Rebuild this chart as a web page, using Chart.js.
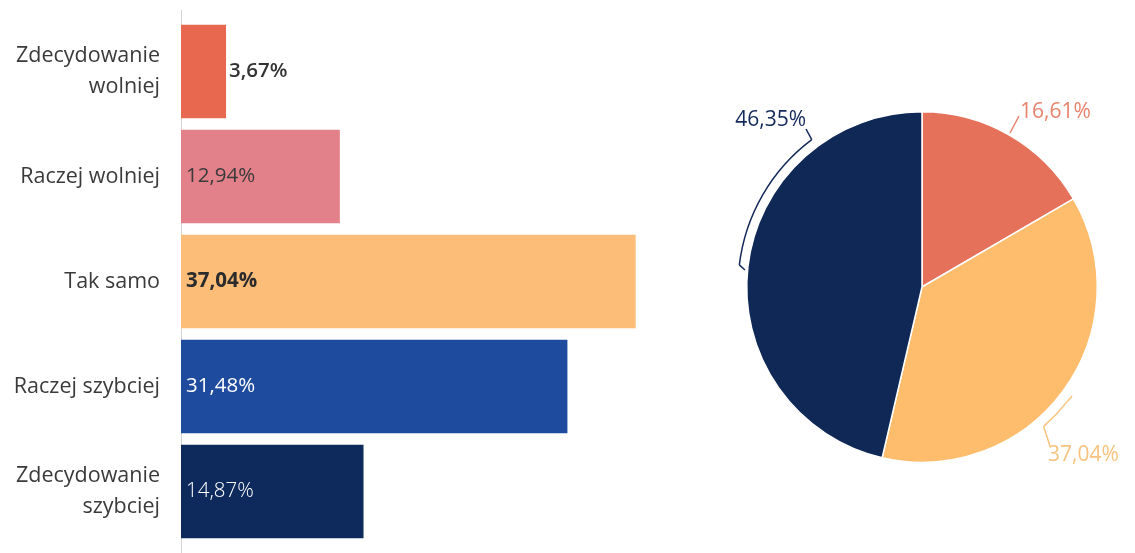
<!DOCTYPE html>
<html>
<head>
<meta charset="utf-8">
<script src="https://cdn.jsdelivr.net/npm/chart.js@4.4.1/dist/chart.umd.min.js"></script>
<style>
  html, body { margin: 0; padding: 0; background: #fff; }
  body { width: 1135px; height: 553px; position: relative; overflow: hidden; }
  #wrapBarras { position: absolute; left: 0; top: 0; width: 672px; height: 553px; }
  #wrapKolo { position: absolute; left: 700px; top: 80px; width: 435px; height: 420px; }
</style>
</head>
<body>
<div id="wrapBarras"><canvas id="graficoBarras"></canvas></div>
<div id="wrapKolo"><canvas id="graficoKolo"></canvas></div>
<script>
// dane
var kategorie = [['Zdecydowanie', 'wolniej'], 'Raczej wolniej', 'Tak samo', 'Raczej szybciej', ['Zdecydowanie', 'szybciej']];
var wartosci = [3.67, 12.94, 37.04, 31.48, 14.87];
var etykietyKolo = ['Wolniej', 'Tak samo', 'Szybciej'];
var wartosciKolo = [16.61, 37.04, 46.35];

var kolorySlupkow = ['#e8684f', '#e2818a', '#fcbd79', '#1f4b9f', '#0e2a5d'];
var koloryTekstu = ['#333333', '#3a3a3a', '#2b2b2b', '#ffffff', '#ffffff'];
var wagiTekstu = ['600', '400', '700', '400', '300'];
var koloryKolo = ['#e5715b', '#fdbd6d', '#0f2856'];

function formatuj(v) {
   return v.toFixed(2).replace('.', ',') + '%';
}

// linia osi Y (trochę dłuższa niż obszar wykresu)
var liniaOsi = {
   id: 'liniaOsi',
   beforeDatasetsDraw: function (chart) {
      var ctx = chart.ctx;
      var x = chart.chartArea.left + 0.5;
      ctx.save();
      ctx.strokeStyle = '#d4d4d4';
      ctx.lineWidth = 1;
      ctx.beginPath();
      ctx.moveTo(x, chart.chartArea.top - 9);
      ctx.lineTo(x, chart.height);
      ctx.stroke();
      ctx.restore();
   }
};

// etykiety wartości na słupkach
var etykietySlupkow = {
   id: 'etykietySlupkow',
   afterDatasetsDraw: function (chart) {
      var ctx = chart.ctx;
      var meta = chart.getDatasetMeta(0);
      ctx.save();
      ctx.textBaseline = 'middle';
      ctx.textAlign = 'left';
      meta.data.forEach(function (bar, i) {
         var txt = formatuj(wartosci[i]);
         ctx.font = wagiTekstu[i] + ' 20.5px "Open Sans"';
         var w = ctx.measureText(txt).width;
         var x = bar.base + 5;
         if (bar.x - bar.base < w + 10) x = bar.x + 3;
         ctx.fillStyle = koloryTekstu[i];
         ctx.fillText(txt, x, bar.y);
      });
      ctx.restore();
   }
};

new Chart(document.getElementById('graficoBarras').getContext('2d'), {
   type: 'bar',
   data: {
      labels: kategorie,
      datasets: [{
         data: wartosci,
         backgroundColor: kolorySlupkow,
         borderWidth: 0,
         categoryPercentage: 1,
         barPercentage: 0.89
      }]
   },
   options: {
      indexAxis: 'y',
      responsive: true,
      maintainAspectRatio: false,
      animation: false,
      layout: { padding: { top: 19, bottom: 9, right: 0 } },
      scales: {
         x: { display: false, min: 0, max: 40 },
         y: {
            grid: { display: false, drawTicks: false },
            border: { display: false },
            ticks: {
               color: '#3a3a3a',
               padding: 21,
               font: { family: '"Open Sans"', size: 21.5, lineHeight: 1.45 }
            },
            afterFit: function (scale) {
               scale.width = 181;
               scale.paddingTop = 0;
               scale.paddingBottom = 0;
            }
         }
      },
      plugins: {
         legend: { display: false },
         tooltip: { enabled: false }
      }
   },
   plugins: [liniaOsi, etykietySlupkow]
});

// opisy wycinków koła (nawiasy i linie)
var opisyKolo = [
   { kolor: '#e8836e', linie: [[[88, -154], [97, -171]]], tekst: [98, -175], align: 'left' },
   { kolor: '#f6c37e', luk: [37.9, 48.9, 185], linie: [[[150, 109], 'a0'], [[128, 159], 'a1']], tekst: [126, 168], align: 'left' },
   { kolor: '#14295a', luk: [186.9, 233.2, 184], linie: [[[-177, -17], 'a0'], [[-116, -158], 'a1']], tekst: [-116, -167], align: 'right' }
];

var opisyWycinkow = {
   id: 'opisyWycinkow',
   afterDatasetsDraw: function (chart) {
      var ctx = chart.ctx;
      var arc = chart.getDatasetMeta(0).data[0];
      var cx = arc.x, cy = arc.y;
      ctx.save();
      ctx.lineWidth = 1.5;
      opisyKolo.forEach(function (o, i) {
         ctx.strokeStyle = o.kolor;
         var pkt = {};
         if (o.luk) {
            var a0 = o.luk[0] * Math.PI / 180, a1 = o.luk[1] * Math.PI / 180, r = o.luk[2];
            pkt.a0 = [r * Math.cos(a0), r * Math.sin(a0)];
            pkt.a1 = [r * Math.cos(a1), r * Math.sin(a1)];
            ctx.beginPath();
            ctx.arc(cx, cy, r, a0, a1);
            ctx.stroke();
         }
         o.linie.forEach(function (l) {
            var p = l[0];
            var q = typeof l[1] === 'string' ? pkt[l[1]] : l[1];
            ctx.beginPath();
            ctx.moveTo(cx + p[0], cy + p[1]);
            ctx.lineTo(cx + q[0], cy + q[1]);
            ctx.stroke();
         });
         ctx.fillStyle = o.kolor;
         ctx.font = '400 21px "Open Sans"';
         ctx.textAlign = o.align;
         ctx.textBaseline = 'middle';
         ctx.fillText(formatuj(wartosciKolo[i]), cx + o.tekst[0], cy + o.tekst[1]);
      });
      ctx.restore();
   }
};

new Chart(document.getElementById('graficoKolo').getContext('2d'), {
   type: 'pie',
   data: {
      labels: etykietyKolo,
      datasets: [{
         data: wartosciKolo,
         backgroundColor: koloryKolo,
         borderColor: '#ffffff',
         borderWidth: 1.5
      }]
   },
   options: {
      responsive: true,
      maintainAspectRatio: false,
      animation: false,
      layout: { padding: { left: 46, right: 37, top: 31, bottom: 37 } },
      plugins: {
         legend: { display: false },
         tooltip: { enabled: false }
      }
   },
   plugins: [opisyWycinkow]
});
</script>
</body>
</html>
